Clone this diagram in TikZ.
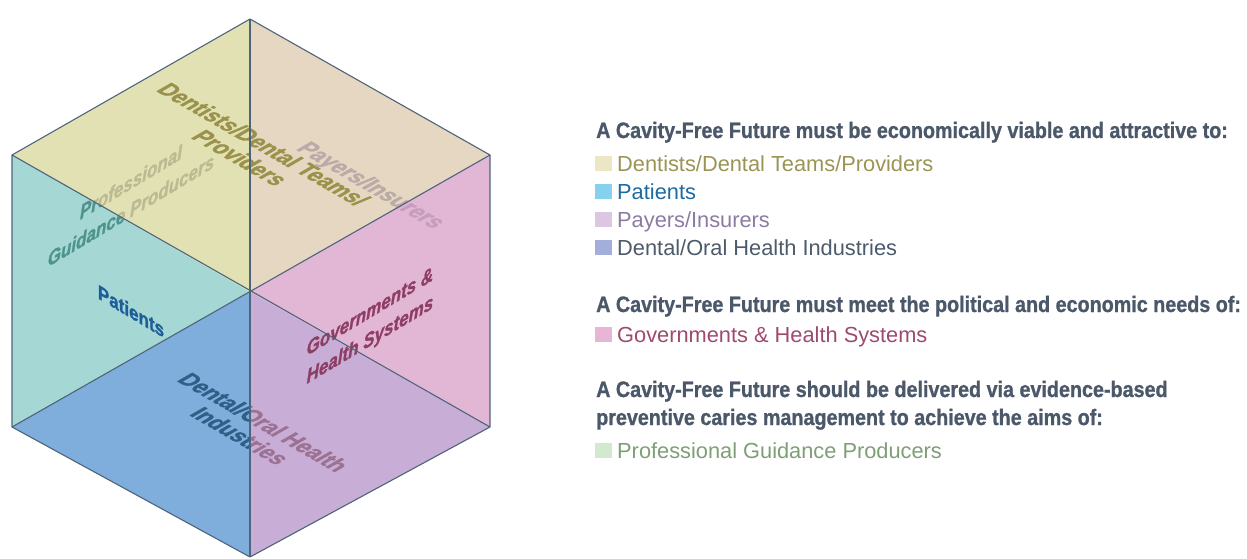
\documentclass[tikz,border=0pt]{standalone}
\usepackage{fontspec}
\setmainfont{Liberation Sans}
\newfontfamily\cubefont[FakeStretch=0.85,FakeBold=1.2]{Liberation Sans}
\newfontfamily\headfont[FakeStretch=0.885,FakeBold=1.0]{Liberation Sans}
\newfontfamily\legfont{Liberation Sans}
\definecolor{ftopl}{HTML}{E1E1B3}
\definecolor{ftopr}{HTML}{E6D7C2}
\definecolor{fleft}{HTML}{A5D7D5}
\definecolor{fright}{HTML}{E2B7D6}
\definecolor{fbotl}{HTML}{7FADDC}
\definecolor{fbotr}{HTML}{C8AED6}
\definecolor{edgec}{HTML}{4E6478}
\definecolor{headc}{HTML}{4B5869}
\definecolor{sqdent}{HTML}{EDE6C5}
\definecolor{sqpat}{HTML}{87D0EE}
\definecolor{sqpay}{HTML}{DCC6E2}
\definecolor{sqind}{HTML}{A4AEDB}
\definecolor{sqgov}{HTML}{E9B5D5}
\definecolor{sqpro}{HTML}{D2E8CF}
\definecolor{tdent}{HTML}{9B9455}
\definecolor{tpat}{HTML}{1D6AA2}
\definecolor{tpay}{HTML}{8C7BA2}
\definecolor{tind}{HTML}{4D5A6B}
\definecolor{tgov}{HTML}{9E4A6E}
\definecolor{tpro}{HTML}{7E9E76}
\definecolor{cdent}{HTML}{9A914A}
\definecolor{cproA}{HTML}{BBBB93}
\definecolor{cproB}{HTML}{4E948D}
\definecolor{cpayA}{HTML}{BAAAA8}
\definecolor{cpayB}{HTML}{C49EBC}
\definecolor{cpat}{HTML}{1C5D9A}
\definecolor{cgov}{HTML}{8E3E64}
\definecolor{cindA}{HTML}{2F5E86}
\definecolor{cindB}{HTML}{9C7294}
\begin{document}
\begin{tikzpicture}[x=1pt,y=-1pt,
  edge/.style={draw=edgec, line width=1.1pt, line join=round},
  topiso/.style={cm={0.866,-0.5,0.866,0.5,(0,0)}, align=center, inner sep=0pt,
    font=\cubefont\bfseries\fontsize{25}{27}\selectfont},
  sidedown/.style={yslant=-0.6, align=center, inner sep=0pt,
    font=\cubefont\bfseries\fontsize{20}{28}\selectfont},
  sideup/.style={yslant=0.6, align=center, inner sep=0pt,
    font=\cubefont\bfseries\itshape\fontsize{20}{28}\selectfont},
  head/.style={anchor=base west, inner sep=0pt, text=headc,
    font=\headfont\bfseries\fontsize{22.3}{26}\selectfont},
  item/.style={anchor=base west, inner sep=0pt,
    font=\legfont\fontsize{21.8}{26}\selectfont},
  sq/.style={anchor=south west, inner sep=0pt, minimum width=17pt, minimum height=15pt, draw=none}
]
\useasboundingbox (0,0) rectangle (1247,559);
\coordinate (T) at (250,19);
\coordinate (LU) at (12,155);
\coordinate (RU) at (490,155);
\coordinate (C) at (250,292);
\coordinate (LL) at (12,427);
\coordinate (RL) at (490,427);
\coordinate (B) at (250,557);
% faces
\fill[ftopl] (T) -- (LU) -- (C) -- cycle;
\fill[ftopr] (T) -- (RU) -- (C) -- cycle;
\fill[fleft] (LU) -- (LL) -- (C) -- cycle;
\fill[fright] (RU) -- (RL) -- (C) -- cycle;
\fill[fbotl] (LL) -- (B) -- (C) -- cycle;
\fill[fbotr] (RL) -- (B) -- (C) -- cycle;
% cube labels
\node[topiso, text=cdent] (dent) at (252,151) {Dentists/Dental Teams/\\Providers};
\begin{scope}
  \clip (T) -- (LU) -- (C) -- cycle;
  \node[sideup, text=cproA] (proA) at (131,196) {Professional\\Guidance Producers};
\end{scope}
\begin{scope}
  \clip (LU) -- (LL) -- (C) -- cycle;
  \node[sideup, text=cproB] (proB) at (131,196) {Professional\\Guidance Producers};
\end{scope}
\begin{scope}
  \clip (T) -- (RU) -- (C) -- cycle;
  \node[topiso, text=cpayA] (payA) at (370,186) {Payers/Insurers};
\end{scope}
\begin{scope}
  \clip (RU) -- (RL) -- (C) -- cycle;
  \node[topiso, text=cpayB] (payB) at (370,186) {Payers/Insurers};
\end{scope}
\node[sidedown, text=cpat] (pat) at (131,311) {Patients};
\node[sideup, text=cgov] (gov) at (370,327) {Governments \&\\Health Systems};
\begin{scope}
  \clip (LL) -- (B) -- (C) -- cycle;
  \node[topiso, text=cindA] (indA) at (252,429) {Dental/Oral Health\\Industries};
\end{scope}
\begin{scope}
  \clip (RL) -- (B) -- (C) -- cycle;
  \node[topiso, text=cindB] (indB) at (252,429) {Dental/Oral Health\\Industries};
\end{scope}
% edges
\draw[edge] (T) -- (RU) -- (RL) -- (B) -- (LL) -- (LU) -- cycle;
\draw[edge] (T) -- (B);
\draw[edge] (LU) -- (RL);
\draw[edge] (RU) -- (LL);
% legend
\node[head] (h1) at (596,138) {A Cavity-Free Future must be economically viable and attractive to:};
\node[sq, fill=sqdent] (s1) at (595,171) {};
\node[item, text=tdent] (i1) at (617,171) {Dentists/Dental Teams/Providers};
\node[sq, fill=sqpat] (s2) at (595,199) {};
\node[item, text=tpat] (i2) at (617,199) {Patients};
\node[sq, fill=sqpay] (s3) at (595,227) {};
\node[item, text=tpay] (i3) at (617,227) {Payers/Insurers};
\node[sq, fill=sqind] (s4) at (595,255) {};
\node[item, text=tind] (i4) at (617,255) {Dental/Oral Health Industries};
\node[head] (h2) at (596,312) {A Cavity-Free Future must meet the political and economic needs of:};
\node[sq, fill=sqgov] (s5) at (595,342) {};
\node[item, text=tgov] (i5) at (617,342) {Governments \& Health Systems};
\node[head] (h3a) at (596,397) {A Cavity-Free Future should be delivered via evidence-based};
\node[head] (h3b) at (596,425) {preventive caries management to achieve the aims of:};
\node[sq, fill=sqpro] (s6) at (595,458) {};
\node[item, text=tpro] (i6) at (617,458) {Professional Guidance Producers};
\end{tikzpicture}
\end{document}
